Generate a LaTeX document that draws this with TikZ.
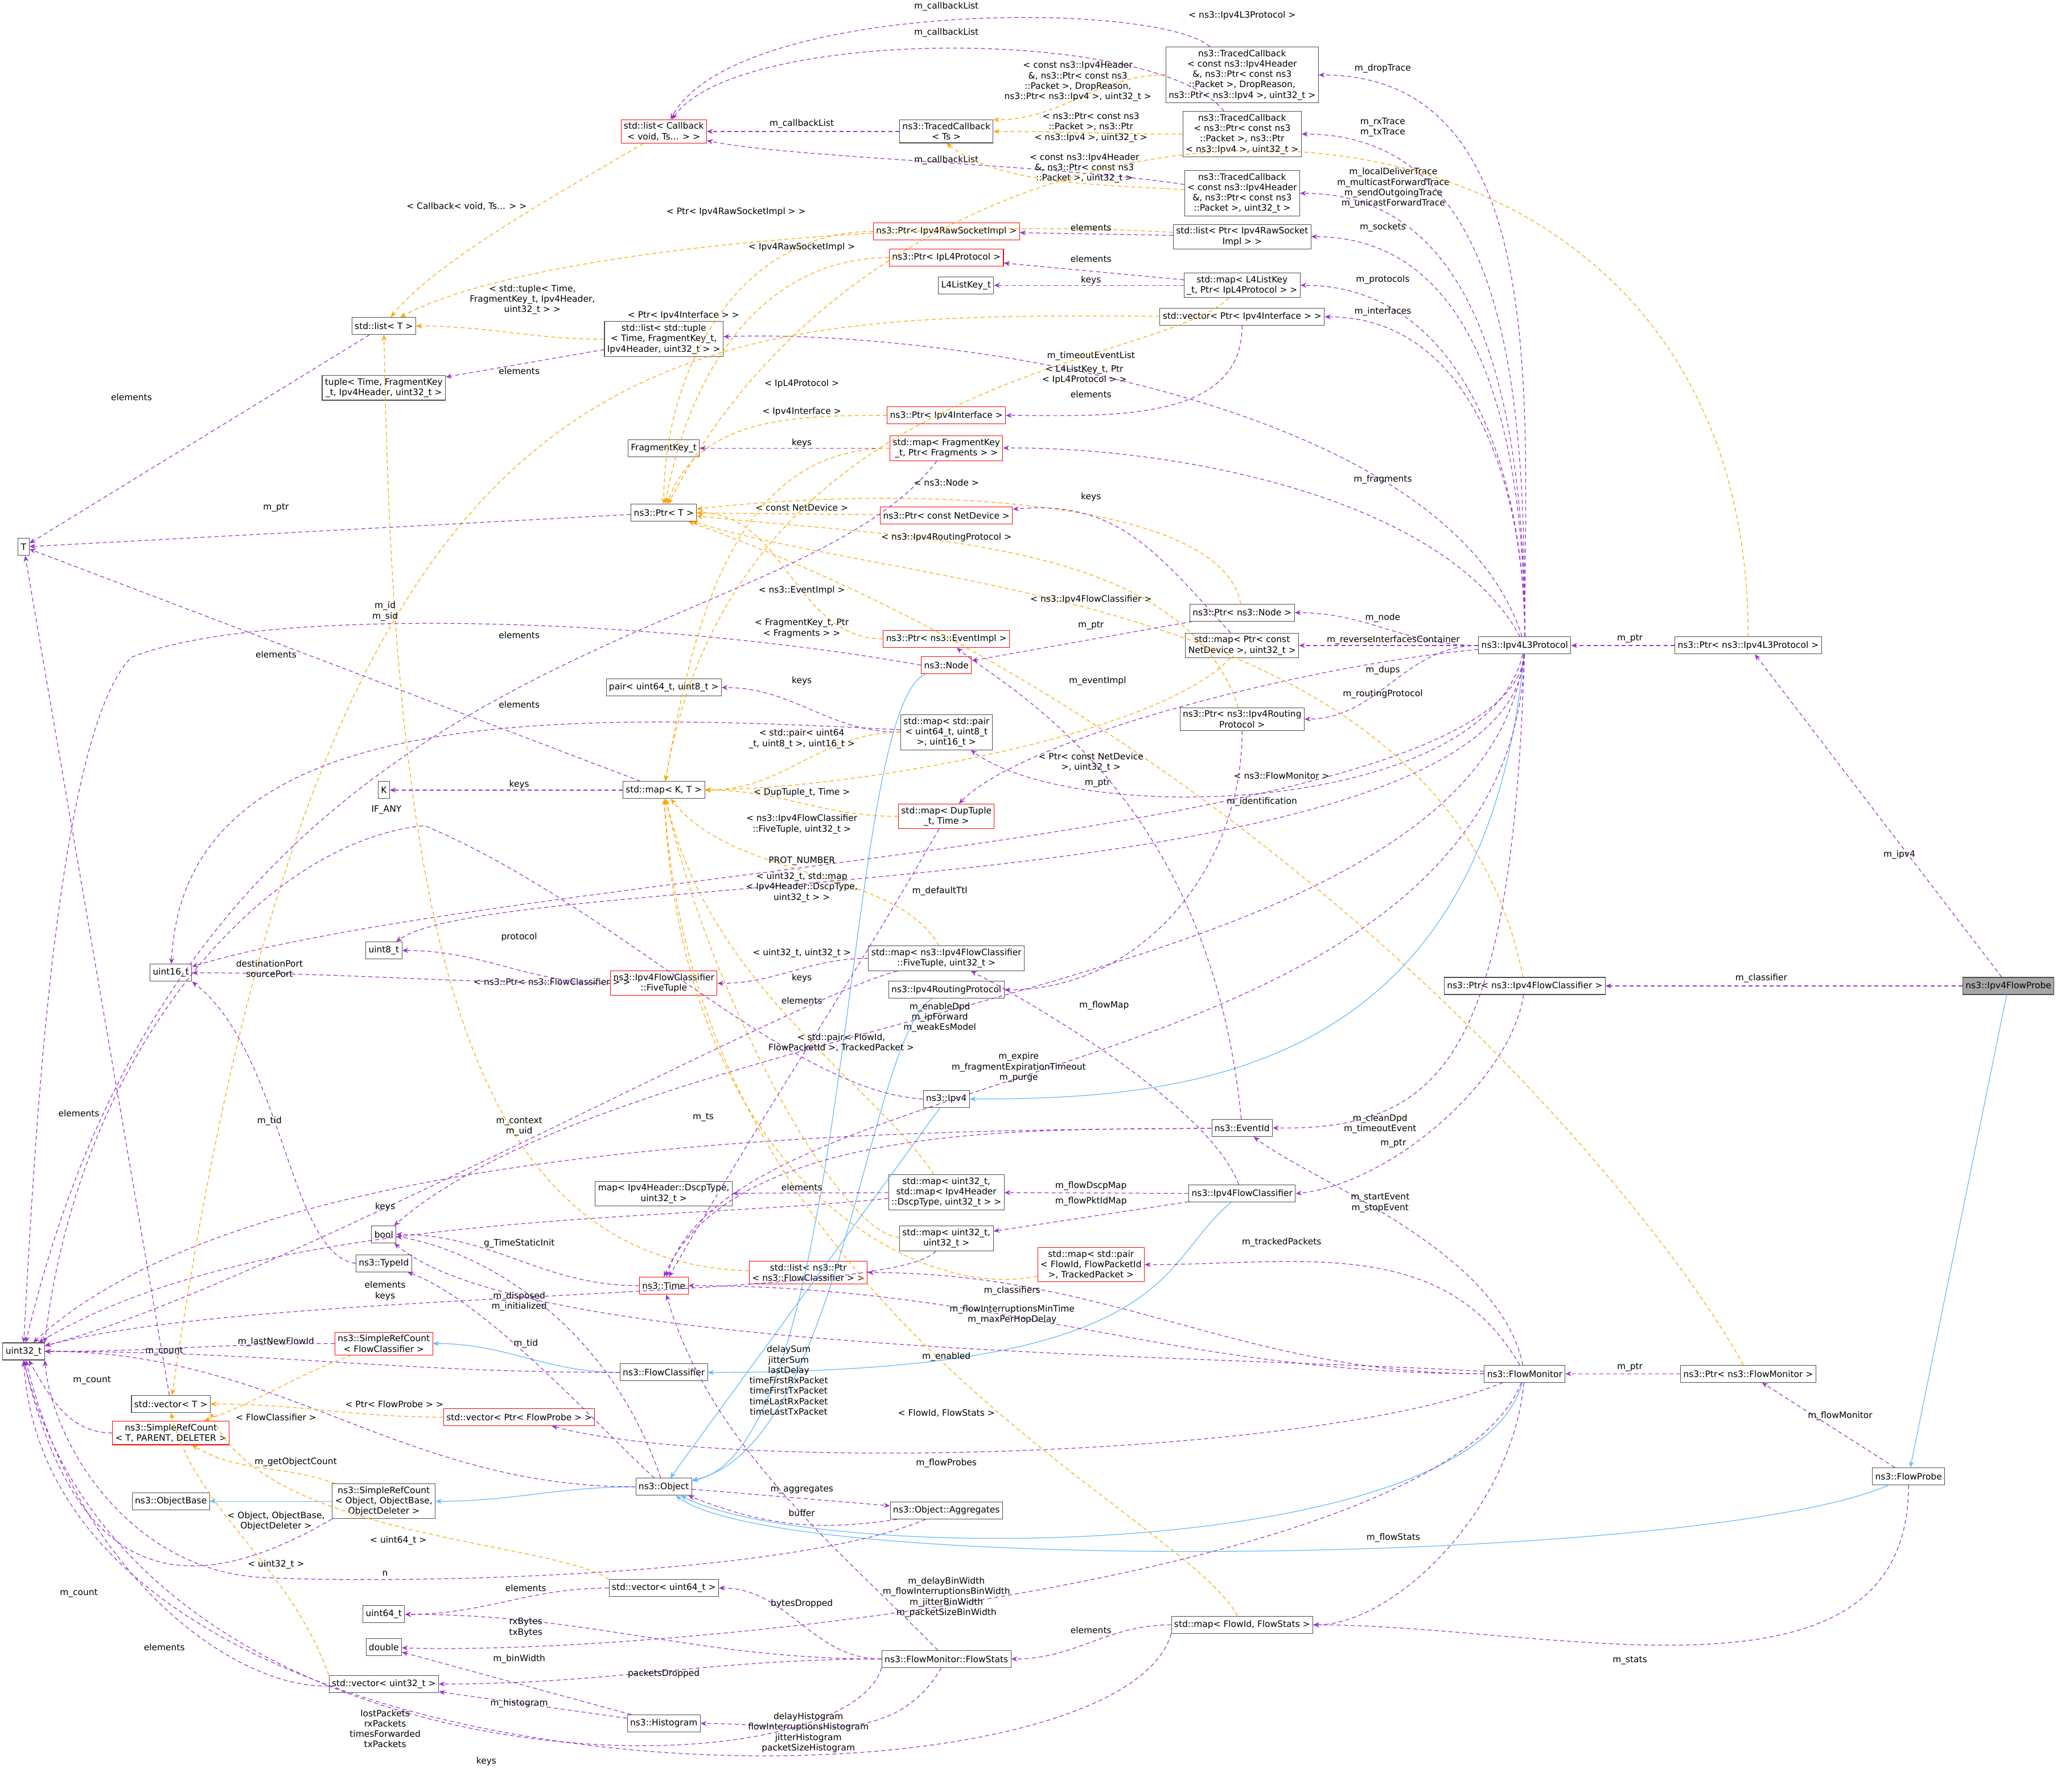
\documentclass[tikz,border=0pt]{standalone}
\usepackage{fontspec}
\setmainfont{DejaVu Sans}
\usetikzlibrary{arrows.meta,positioning}
\definecolor{usecol}{HTML}{9A32CD}
\definecolor{tplcol}{HTML}{FFA500}
\definecolor{inhcol}{HTML}{63B8FF}
\newcommand\fsz{\fontsize{4.4}{5.2}\selectfont}
\tikzset{
  cls/.style={draw=black!70, fill=white, font=\fsz, align=center, inner sep=1.4pt, minimum height=0.3cm, line width=0.3pt},
  inc/.style={cls, draw=red},
  cur/.style={cls, fill=black!35},
  use/.style={draw=usecol, dash pattern=on 2pt off 1.5pt, line width=0.35pt, -{Stealth[length=3pt,width=2.5pt]}},
  tpl/.style={draw=tplcol, dash pattern=on 2pt off 1.5pt, line width=0.35pt, -{Stealth[length=3pt,width=2.5pt]}},
  inh/.style={draw=inhcol, line width=0.35pt, -{Stealth[length=3pt,width=2.5pt]}},
  lbl/.style={font=\fsz, align=center, inner sep=0.5pt},
  lr/.style={out=180, in=0}
}
\begin{document}
\begin{tikzpicture}[x=0.0231cm, y=-0.0231cm]
\useasboundingbox (0,0) rectangle (1568,1363);
% classes
\node[cls] (T) at (18,416) {T};
\node[cls] (u32) at (18,1028) {uint32\_t};
\node[cls] (listT) at (292,248) {std::list< T >};
\node[cls] (tuple) at (292,295) {tuple< Time, FragmentKey\\\_t, Ipv4Header, uint32\_t >};
\node[inc] (listcb) at (505,100) {std::list< Callback\\< void, Ts... > >};
\node[cls] (tcTs) at (720,100) {ns3::TracedCallback\\< Ts >};
\node[cls] (tcDrop) at (945,57) {ns3::TracedCallback\\< const ns3::Ipv4Header\\\&, ns3::Ptr< const ns3\\::Packet >, DropReason,\\ns3::Ptr< ns3::Ipv4 >, uint32\_t >};
\node[cls] (tcRx) at (945,102) {ns3::TracedCallback\\< ns3::Ptr< const ns3\\::Packet >, ns3::Ptr\\< ns3::Ipv4 >, uint32\_t >};
\node[cls] (tcHdr) at (945,147) {ns3::TracedCallback\\< const ns3::Ipv4Header\\\&, ns3::Ptr< const ns3\\::Packet >, uint32\_t >};
\node[cls] (listRaw) at (945,180) {std::list< Ptr< Ipv4RawSocket\\Impl > >};
\node[inc] (ptrRaw) at (720,176) {ns3::Ptr< Ipv4RawSocketImpl >};
\node[inc] (ptrL4) at (720,196) {ns3::Ptr< IpL4Protocol >};
\node[cls] (l4key) at (735,217) {L4ListKey\_t};
\node[cls] (mapL4) at (945,217) {std::map< L4ListKey\\\_t, Ptr< IpL4Protocol > >};
\node[cls] (vecIf) at (945,241) {std::vector< Ptr< Ipv4Interface > >};
\node[cls] (listTup) at (505,258) {std::list< std::tuple\\< Time, FragmentKey\_t,\\Ipv4Header, uint32\_t > >};
\node[inc] (ptrIf) at (720,316) {ns3::Ptr< Ipv4Interface >};
\node[cls] (fragkey) at (505,341) {FragmentKey\_t};
\node[inc] (mapFrag) at (720,341) {std::map< FragmentKey\\\_t, Ptr< Fragments > >};
\node[cls] (ptrT) at (505,390) {ns3::Ptr< T >};
\node[inc] (ptrDev) at (720,392) {ns3::Ptr< const NetDevice >};
\node[cls] (ptrNode) at (945,466) {ns3::Ptr< ns3::Node >};
\node[inc] (ptrEv) at (720,486) {ns3::Ptr< ns3::EventImpl >};
\node[cls] (mapDev) at (945,491) {std::map< Ptr< const\\NetDevice >, uint32\_t >};
\node[inc] (node) at (720,506) {ns3::Node};
\node[cls] (pair) at (505,523) {pair< uint64\_t, uint8\_t >};
\node[cls] (mapPair) at (720,557) {std::map< std::pair\\< uint64\_t, uint8\_t\\>, uint16\_t >};
\node[cls] (ptrRP) at (945,547) {ns3::Ptr< ns3::Ipv4Routing\\Protocol >};
\node[cls] (K) at (292,601) {K};
\node[cls] (mapKT) at (505,601) {std::map< K, T >};
\node[inc] (mapDup) at (720,621) {std::map< DupTuple\\\_t, Time >};
\node[cls] (u8) at (292,723) {uint8\_t};
\node[cls] (u16) at (130,740) {uint16\_t};
\node[inc] (five) at (505,748) {ns3::Ipv4FlowClassifier\\::FiveTuple};
\node[cls] (mapFive) at (720,729) {std::map< ns3::Ipv4FlowClassifier\\::FiveTuple, uint32\_t >};
\node[cls] (rp) at (720,753) {ns3::Ipv4RoutingProtocol};
\node[cls] (ipv4) at (720,836) {ns3::Ipv4};
\node[cls] (evid) at (945,858) {ns3::EventId};
\node[cls] (mapDscp) at (505,908) {map< Ipv4Header::DscpType,\\uint32\_t >};
\node[cls] (mapU32Dscp) at (720,907) {std::map< uint32\_t,\\std::map< Ipv4Header\\::DscpType, uint32\_t > >};
\node[cls] (ifc) at (945,908) {ns3::Ipv4FlowClassifier};
\node[cls] (mapU32) at (720,942) {std::map< uint32\_t,\\uint32\_t >};
\node[cls] (bool) at (292,939) {bool};
\node[cls] (typeid) at (292,961) {ns3::TypeId};
\node[inc] (time) at (505,978) {ns3::Time};
\node[inc] (listFC) at (615,968) {std::list< ns3::Ptr\\< ns3::FlowClassifier > >};
\node[inc] (mapTrk) at (830,962) {std::map< std::pair\\< FlowId, FlowPacketId\\>, TrackedPacket >};
\node[inc] (srcFC) at (292,1022) {ns3::SimpleRefCount\\< FlowClassifier >};
\node[cls] (fc) at (505,1044) {ns3::FlowClassifier};
\node[cls] (vecT) at (130,1068) {std::vector< T >};
\node[inc] (srcT) at (130,1090) {ns3::SimpleRefCount\\< T, PARENT, DELETER >};
\node[inc] (vecProbe) at (395,1078) {std::vector< Ptr< FlowProbe > >};
\node[cls] (objbase) at (130,1142) {ns3::ObjectBase};
\node[cls] (srcObj) at (292,1142) {ns3::SimpleRefCount\\< Object, ObjectBase,\\ObjectDeleter >};
\node[cls] (obj) at (505,1131) {ns3::Object};
\node[cls] (aggr) at (720,1149) {ns3::Object::Aggregates};
\node[cls] (vecU64) at (505,1208) {std::vector< uint64\_t >};
\node[cls] (u64) at (292,1228) {uint64\_t};
\node[cls] (double) at (292,1253) {double};
\node[cls] (vecU32) at (292,1281) {std::vector< uint32\_t >};
\node[cls] (hist) at (505,1311) {ns3::Histogram};
\node[cls] (fstats) at (720,1262) {ns3::FlowMonitor::FlowStats};
\node[cls] (mapStats) at (945,1236) {std::map< FlowId, FlowStats >};
\node[cls] (fmon) at (1160,1045) {ns3::FlowMonitor};
\node[cls] (ptrMon) at (1330,1045) {ns3::Ptr< ns3::FlowMonitor >};
\node[cls] (probe) at (1452,1123) {ns3::FlowProbe};
\node[cls] (ptrIfc) at (1160,750) {ns3::Ptr< ns3::Ipv4FlowClassifier >};
\node[cur] (ifprobe) at (1528,750) {ns3::Ipv4FlowProbe};
\node[cls] (l3) at (1160,491) {ns3::Ipv4L3Protocol};
\node[cls] (ptrL3) at (1330,491) {ns3::Ptr< ns3::Ipv4L3Protocol >};
% inheritance
\draw[inh] (ifprobe) -- (probe);
\draw[inh] (l3) .. controls (1130,820) and (900,836) .. (ipv4);
\draw[inh] (ipv4) -- (obj);
\draw[inh] (node) .. controls (640,540) and (650,1100) .. (obj);
\draw[inh] (rp) .. controls (660,790) and (640,1100) .. (obj);
\draw[inh] (ifc) .. controls (880,960) and (900,1044) .. (fc);
\draw[inh] (fmon) .. controls (1120,1190) and (620,1190) .. (obj);
\draw[inh] (probe) .. controls (1300,1190) and (600,1200) .. (obj);
\draw[inh] (fc) to[lr] (srcFC);
\draw[inh] (obj) to[lr] (srcObj);
\draw[inh] (srcObj) -- (objbase);
% probe side
\draw[use] (ifprobe) -- (ptrL3); \node[lbl] at (1445,650) {m\_ipv4};
\draw[use] (ifprobe) -- (ptrIfc); \node[lbl] at (1340,744) {m\_classifier};
\draw[use] (ptrL3) -- (l3); \node[lbl] at (1240,486) {m\_ptr};
\draw[use] (ptrIfc) .. controls (1150,820) and (1060,900) .. (ifc.east); \node[lbl] at (1060,870) {m\_ptr};
\draw[use] (ptrMon) -- (fmon); \node[lbl] at (1240,1040) {m\_ptr};
\draw[use] (probe) -- (ptrMon); \node[lbl] at (1400,1077) {m\_flowMonitor};
\draw[use] (probe) to[out=270,in=0] (mapStats); \node[lbl] at (1240,1263) {m\_stats};
% Ipv4L3Protocol
\draw[use] (l3) to[out=90,in=0] (tcDrop); \node[lbl] at (1052,52) {m\_dropTrace};
\draw[use] (l3) to[out=90,in=0] (tcRx); \node[lbl] at (1052,97) {m\_rxTrace\\m\_txTrace};
\draw[use] (l3) to[out=90,in=0] (tcHdr); \node[lbl] at (1060,143) {m\_localDeliverTrace\\m\_multicastForwardTrace\\m\_sendOutgoingTrace\\m\_unicastForwardTrace};
\draw[use] (l3) to[out=90,in=0] (listRaw); \node[lbl] at (1052,173) {m\_sockets};
\draw[use] (l3) to[out=90,in=0] (mapL4); \node[lbl] at (1052,213) {m\_protocols};
\draw[use] (l3) to[out=90,in=0] (vecIf); \node[lbl] at (1052,237) {m\_interfaces};
\draw[use] (l3) .. controls (1100,300) and (700,250) .. (listTup); \node[lbl] at (830,271) {m\_timeoutEventList};
\draw[use] (l3) .. controls (1100,380) and (900,340) .. (mapFrag); \node[lbl] at (1052,365) {m\_fragments};
\draw[use] (l3) to[lr] (ptrNode); \node[lbl] at (1052,470) {m\_node};
\draw[use] (l3) to[lr] (mapDev); \node[lbl] at (1060,487) {m\_reverseInterfacesContainer};
\draw[use] (l3) .. controls (1000,505) and (780,560) .. (mapDup); \node[lbl] at (1052,510) {m\_dups};
\draw[use] (l3) to[lr] (ptrRP); \node[lbl] at (1052,528) {m\_routingProtocol};
\draw[use] (l3) .. controls (1130,620) and (820,630) .. (mapPair); \node[lbl] at (960,610) {m\_identification};
\draw[use] (l3) .. controls (1150,690) and (380,660) .. (u8); \node[lbl] at (715,678) {m\_defaultTtl};
\draw[use] (l3) .. controls (1150,640) and (400,660) .. (u16); \node[lbl] at (610,655) {PROT\_NUMBER};
\draw[use] (l3) .. controls (1130,760) and (500,760) .. (bool); \node[lbl] at (715,774) {m\_enableDpd\\m\_ipForward\\m\_weakEsModel};
\draw[use] (l3) .. controls (1150,830) and (560,800) .. (time); \node[lbl] at (775,812) {m\_expire\\m\_fragmentExpirationTimeout\\m\_purge};
\draw[use] (l3) .. controls (1150,800) and (1100,860) .. (evid.east); \node[lbl] at (1050,855) {m\_cleanDpd\\m\_timeoutEvent};
% traced callbacks
\draw[use] (tcTs) -- (listcb); \node[lbl] at (610,94) {m\_callbackList};
\draw[use] (tcDrop) .. controls (880,0) and (560,0) .. (listcb); \node[lbl] at (720,5) {m\_callbackList};
\draw[use] (tcRx) .. controls (880,20) and (560,20) .. (listcb); \node[lbl] at (720,25) {m\_callbackList};
\draw[use] (tcHdr) .. controls (800,125) and (600,120) .. (listcb); \node[lbl] at (720,122) {m\_callbackList};
\draw[tpl] (tcDrop) to[lr] (tcTs.north east); \node[lbl] at (820,62) {< const ns3::Ipv4Header\\\&, ns3::Ptr< const ns3\\::Packet >, DropReason,\\ns3::Ptr< ns3::Ipv4 >, uint32\_t >};
\draw[tpl] (tcRx) to[lr] (tcTs); \node[lbl] at (830,97) {< ns3::Ptr< const ns3\\::Packet >, ns3::Ptr\\< ns3::Ipv4 >, uint32\_t >};
\draw[tpl] (tcHdr) .. controls (830,140) and (760,140) .. (tcTs.south); \node[lbl] at (825,128) {< const ns3::Ipv4Header\\\&, ns3::Ptr< const ns3\\::Packet >, uint32\_t >};
\draw[tpl] (listcb) .. controls (420,150) and (330,200) .. (listT); \node[lbl] at (355,157) {< Callback< void, Ts... > >};
\draw[tpl] (listRaw) .. controls (700,165) and (400,190) .. (listT); \node[lbl] at (560,161) {< Ptr< Ipv4RawSocketImpl > >};
\draw[tpl] (listTup) to[lr] (listT); \node[lbl] at (405,228) {< std::tuple< Time,\\FragmentKey\_t, Ipv4Header,\\uint32\_t > >};
\draw[tpl] (listFC) .. controls (350,960) and (300,700) .. (listT); \node[lbl] at (420,747) {< ns3::Ptr< ns3::FlowClassifier > >};
\draw[tpl] (vecIf) .. controls (500,238) and (250,240) .. (vecT); \node[lbl] at (520,240) {< Ptr< Ipv4Interface > >};
\draw[tpl] (ptrL3) .. controls (1330,10) and (700,10) .. (ptrT); \node[lbl] at (945,12) {< ns3::Ipv4L3Protocol >};
% Ptr specialisations
\draw[tpl] (ptrRaw) to[out=180,in=90] (ptrT); \node[lbl] at (610,188) {< Ipv4RawSocketImpl >};
\draw[tpl] (ptrL4) to[out=180,in=80] (ptrT); \node[lbl] at (610,292) {< IpL4Protocol >};
\draw[tpl] (ptrIf) to[out=180,in=70] (ptrT); \node[lbl] at (610,313) {< Ipv4Interface >};
\draw[tpl] (ptrDev) -- (ptrT); \node[lbl] at (610,386) {< const NetDevice >};
\draw[tpl] (ptrNode) .. controls (930,380) and (700,368) .. (ptrT); \node[lbl] at (720,367) {< ns3::Node >};
\draw[tpl] (ptrEv) to[lr] (ptrT); \node[lbl] at (610,449) {< ns3::EventImpl >};
\draw[tpl] (ptrRP) .. controls (900,410) and (700,410) .. (ptrT); \node[lbl] at (720,409) {< ns3::Ipv4RoutingProtocol >};
\draw[tpl] (ptrIfc) .. controls (1100,450) and (700,450) .. (ptrT); \node[lbl] at (830,456) {< ns3::Ipv4FlowClassifier >};
\draw[tpl] (ptrMon) .. controls (1250,900) and (950,550) .. (ptrT); \node[lbl] at (975,590) {< ns3::FlowMonitor >};
\draw[use] (ptrT) -- (T); \node[lbl] at (210,386) {m\_ptr};
\draw[use] (listT) -- (T); \node[lbl] at (100,302) {elements};
\draw[use] (vecT) -- (T); \node[lbl] at (60,847) {elements};
\draw[use] (listTup) -- (tuple); \node[lbl] at (395,282) {elements};
\draw[use] (listRaw) -- (ptrRaw); \node[lbl] at (830,173) {elements};
\draw[use] (mapL4) -- (ptrL4); \node[lbl] at (830,197) {elements};
\draw[use] (mapL4) -- (l4key); \node[lbl] at (830,213) {keys};
\draw[use] (vecIf) to[out=270,in=0] (ptrIf); \node[lbl] at (830,300) {elements};
\draw[use] (mapFrag) -- (fragkey); \node[lbl] at (610,337) {keys};
\draw[use] (ptrNode) -- (node); \node[lbl] at (830,476) {m\_ptr};
\draw[use] (mapDev) .. controls (880,420) and (850,380) .. (ptrDev); \node[lbl] at (830,378) {keys};
\draw[use] (mapPair) to[lr] (pair); \node[lbl] at (610,518) {keys};
\draw[use] (mapPair) .. controls (400,540) and (140,540) .. (u16); \node[lbl] at (395,536) {elements};
\draw[use] (mapKT) -- (K); \node[lbl] at (395,597) {keys};
\draw[use] (mapKT) -- (T); \node[lbl] at (210,498) {elements};
\draw[use] (mapDup) to[out=240,in=60] (time);
\draw[use] (node.west) .. controls (500,470) and (200,460) .. (100,500) .. controls (40,560) and (25,900) .. (u32.north); \node[lbl] at (293,465) {m\_id\\m\_sid};
\draw[use] (mapFrag) .. controls (600,500) and (150,470) .. (u32); \node[lbl] at (395,483) {elements};
\draw[use] (evid) .. controls (920,600) and (760,520) .. (ptrEv); \node[lbl] at (835,518) {m\_eventImpl};
\draw[use] (evid) .. controls (700,860) and (200,860) .. (u32); \node[lbl] at (395,857) {m\_context\\m\_uid};
\draw[use] (evid) .. controls (800,860) and (560,850) .. (time.north); \node[lbl] at (535,850) {m\_ts};
\draw[use] (ptrRP) to[out=270,in=0] (rp); \node[lbl] at (835,596) {m\_ptr};
\draw[use] (ipv4.west) .. controls (600,830) and (470,690) .. (323,628) .. controls (200,640) and (60,800) .. (u32.north east); \node[lbl] at (294,616) {IF\_ANY};
% map templates
\draw[tpl] (mapL4) .. controls (880,280) and (560,280) .. (mapKT); \node[lbl] at (825,285) {< L4ListKey\_t, Ptr\\< IpL4Protocol > >};
\draw[tpl] (mapFrag) to[out=180,in=80] (mapKT); \node[lbl] at (610,478) {< FragmentKey\_t, Ptr\\< Fragments > >};
\draw[tpl] (mapDev) .. controls (880,560) and (650,600) .. (mapKT); \node[lbl] at (830,580) {< Ptr< const NetDevice\\>, uint32\_t >};
\draw[tpl] (mapPair) to[lr] (mapKT); \node[lbl] at (610,562) {< std::pair< uint64\\\_t, uint8\_t >, uint16\_t >};
\draw[tpl] (mapDup) to[lr] (mapKT); \node[lbl] at (610,603) {< DupTuple\_t, Time >};
\draw[tpl] (mapFive) .. controls (680,660) and (560,670) .. (mapKT); \node[lbl] at (610,627) {< ns3::Ipv4FlowClassifier\\::FiveTuple, uint32\_t >};
\draw[tpl] (mapU32Dscp) .. controls (660,820) and (540,750) .. (mapKT); \node[lbl] at (610,675) {< uint32\_t, std::map\\< Ipv4Header::DscpType,\\uint32\_t > >};
\draw[tpl] (mapU32) .. controls (640,940) and (540,760) .. (mapKT); \node[lbl] at (610,725) {< uint32\_t, uint32\_t >};
\draw[tpl] (mapTrk) .. controls (700,990) and (520,900) .. (mapKT); \node[lbl] at (640,793) {< std::pair< FlowId,\\FlowPacketId >, TrackedPacket >};
\draw[tpl] (mapStats) .. controls (900,1150) and (530,1000) .. (mapKT); \node[lbl] at (720,1075) {< FlowId, FlowStats >};
% flow classifier
\draw[use] (five) to[lr] (u8); \node[lbl] at (395,713) {protocol};
\draw[use] (five) to[lr] (u16); \node[lbl] at (205,737) {destinationPort\\sourcePort};
\draw[use] (mapFive) to[lr] (five); \node[lbl] at (610,744) {keys};
\draw[use] (mapFive) .. controls (600,760) and (200,980) .. (u32); \node[lbl] at (610,761) {elements};
\draw[use] (ifc) .. controls (920,840) and (780,760) .. (mapFive); \node[lbl] at (840,765) {m\_flowMap};
\draw[use] (ifc) -- (mapU32Dscp); \node[lbl] at (830,902) {m\_flowDscpMap};
\draw[use] (ifc) -- (mapU32); \node[lbl] at (830,914) {m\_flowPktIdMap};
\draw[use] (mapU32Dscp) -- (mapDscp); \node[lbl] at (610,903) {elements};
\draw[use] (mapU32Dscp) .. controls (500,930) and (200,920) .. (u32); \node[lbl] at (293,918) {keys};
\draw[use] (mapU32) .. controls (680,990) and (200,980) .. (u32); \node[lbl] at (293,982) {elements\\keys};
\draw[use] (time) to[lr] (bool); \node[lbl] at (395,946) {g\_TimeStaticInit};
\draw[use] (obj) .. controls (460,1000) and (360,950) .. (bool); \node[lbl] at (395,990) {m\_disposed\\m\_initialized};
\draw[use] (obj) .. controls (450,1080) and (370,990) .. (typeid); \node[lbl] at (400,1022) {m\_tid};
\draw[use] (obj) to[lr] (u32); \node[lbl] at (225,1112) {m\_getObjectCount};
\draw[use] (obj) -- (aggr); \node[lbl] at (610,1133) {m\_aggregates};
\draw[use] (aggr) to[bend left=15] (obj); \node[lbl] at (610,1151) {buffer};
\draw[use] (aggr) .. controls (600,1200) and (300,1205) .. (200,1200) .. controls (100,1195) and (40,1100) .. (u32.south east); \node[lbl] at (293,1197) {n};
\draw[use] (typeid.west) .. controls (220,955) and (215,800) .. (u16.south east); \node[lbl] at (205,853) {m\_tid};
\draw[use] (fc) to[lr] (u32); \node[lbl] at (210,1021) {m\_lastNewFlowId};
\draw[use] (srcFC) to[lr] (u32); \node[lbl] at (125,1028) {m\_count};
\draw[use] (srcT) to[out=180,in=300] (u32); \node[lbl] at (70,1050) {m\_count};
\draw[use] (srcObj.south west) .. controls (150,1215) and (60,1215) .. (u32.south); \node[lbl] at (60,1212) {m\_count};
\draw[tpl] (srcFC) to[out=200,in=20] (srcT); \node[lbl] at (210,1078) {< FlowClassifier >};
\draw[tpl] (srcObj) to[out=160,in=330] (srcT); \node[lbl] at (210,1157) {< Object, ObjectBase,\\ObjectDeleter >};
\draw[tpl] (vecProbe) to[lr] (vecT); \node[lbl] at (300,1068) {< Ptr< FlowProbe > >};
\draw[tpl] (vecU64.north west) .. controls (420,1172) and (200,1170) .. (vecT.south east); \node[lbl] at (303,1172) {< uint64\_t >};
\draw[tpl] (vecU32.north west) .. controls (220,1190) and (150,1150) .. (vecT.south); \node[lbl] at (210,1190) {< uint32\_t >};
% flow monitor
\draw[use] (fmon) .. controls (1000,1110) and (550,1120) .. (vecProbe); \node[lbl] at (720,1113) {m\_flowProbes};
\draw[use] (fmon) to[lr] (listFC); \node[lbl] at (770,982) {m\_classifiers};
\draw[use] (fmon) to[out=120,in=0] (mapTrk); \node[lbl] at (975,945) {m\_trackedPackets};
\draw[use] (fmon) .. controls (1140,950) and (1000,900) .. (evid); \node[lbl] at (1050,915) {m\_startEvent\\m\_stopEvent};
\draw[use] (fmon) to[lr] (time); \node[lbl] at (770,1000) {m\_flowInterruptionsMinTime\\m\_maxPerHopDelay};
\draw[use] (fmon) .. controls (900,1030) and (400,1030) .. (bool); \node[lbl] at (720,1032) {m\_enabled};
\draw[use] (fmon) .. controls (1100,1200) and (500,1260) .. (double); \node[lbl] at (720,1215) {m\_delayBinWidth\\m\_flowInterruptionsBinWidth\\m\_jitterBinWidth\\m\_packetSizeBinWidth};
\draw[use] (fmon) .. controls (1150,1150) and (1060,1236) .. (mapStats); \node[lbl] at (1060,1170) {m\_flowStats};
\draw[use] (mapStats) to[lr] (fstats); \node[lbl] at (830,1240) {elements};
\draw[use] (mapStats.south west) .. controls (850,1390) and (40,1390) .. (u32.south); \node[lbl] at (370,1340) {keys};
\draw[use] (fstats) to[lr] (vecU64); \node[lbl] at (610,1220) {bytesDropped};
\draw[use] (fstats) to[lr] (u64); \node[lbl] at (400,1238) {rxBytes\\txBytes};
\draw[use] (fstats) to[lr] (vecU32); \node[lbl] at (505,1273) {packetsDropped};
\draw[use] (fstats) to[out=240,in=0] (hist); \node[lbl] at (615,1318) {delayHistogram\\flowInterruptionsHistogram\\jitterHistogram\\packetSizeHistogram};
\draw[use] (fstats.south west) .. controls (640,1370) and (100,1370) .. (u32.south); \node[lbl] at (293,1315) {lostPackets\\rxPackets\\timesForwarded\\txPackets};
\draw[use] (fstats) .. controls (640,1180) and (540,1100) .. (time); \node[lbl] at (600,1050) {delaySum\\jitterSum\\lastDelay\\timeFirstRxPacket\\timeFirstTxPacket\\timeLastRxPacket\\timeLastTxPacket};
\draw[use] (hist) -- (vecU32); \node[lbl] at (395,1296) {m\_histogram};
\draw[use] (hist) -- (double); \node[lbl] at (395,1262) {m\_binWidth};
\draw[use] (vecU64) to[lr] (u64); \node[lbl] at (400,1208) {elements};
\draw[use] (vecU32) .. controls (180,1285) and (60,1200) .. (u32); \node[lbl] at (125,1253) {elements};
\end{tikzpicture}
\end{document}
